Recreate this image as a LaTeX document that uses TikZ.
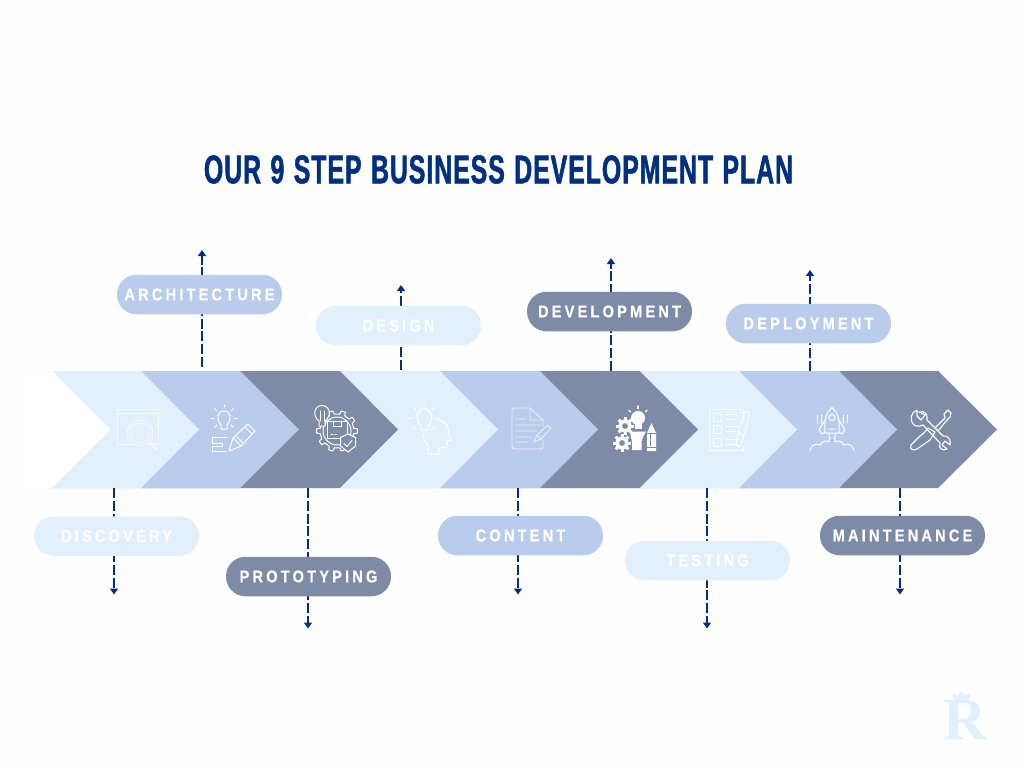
\documentclass[tikz,border=0pt]{standalone}
\usepackage{fontspec}
\usetikzlibrary{arrows.meta,calc}
\setmainfont{Liberation Sans}
\newfontfamily\titlefont[FakeStretch=0.62,FakeBold=1.3,LetterSpace=2.5,WordSpace=1.2]{Liberation Sans}
\newfontfamily\pillfont[FakeStretch=0.86,FakeBold=0.4,LetterSpace=18.6]{Liberation Sans}
\definecolor{lightb}{HTML}{E2F0FD}
\definecolor{midb}{HTML}{B9CCEB}
\definecolor{darkb}{HTML}{7D8BA7}
\definecolor{navy}{HTML}{00307F}
\definecolor{paper}{HTML}{FEFEFE}
\tikzset{
  pill/.style={rounded corners=19.5pt,minimum width=165pt,minimum height=39.5pt,inner sep=0pt,text=white,font=\pillfont\fontsize{17}{18}\bfseries},
  pilll/.style={pill,fill=lightb},
  pillm/.style={pill,fill=midb},
  pilld/.style={pill,fill=darkb},
  conn/.style={navy,line width=2pt,dash pattern=on 10pt off 2.8pt},
  connend/.style={conn,-{Triangle[width=8pt,length=6pt]}},
  icon/.style={draw=white,line width=1pt,line cap=round,line join=round,fill=none},
}
\newcommand{\chev}[4]{\fill[#1] (#2,371) -- (#3,371) -- (#4,429.5) -- (#3,488) -- (#2,488) -- cycle;}
\begin{document}
\begin{tikzpicture}[x=1pt,y=-1pt]
\path[fill=paper] (0,0) rectangle (1024,768);
\useasboundingbox (0,0) rectangle (1024,768);
% chevrons, last first so that each tip lies on the next
\chev{darkb}{739}{938}{997}
\chev{midb}{640}{839}{897}
\chev{lightb}{540}{739}{797}
\chev{darkb}{440}{639.5}{698}
\chev{midb}{340}{540}{598}
\chev{lightb}{240}{440}{498}
\chev{darkb}{141}{340}{398}
\chev{midb}{52}{240}{299}
\chev{lightb}{23}{141}{199}
\chev{white}{23}{52}{110.5}
% connector ends
\coordinate (arch-s) at (202,367);\coordinate (arch-e) at (202,250);
\coordinate (desi-s) at (401,370);\coordinate (desi-e) at (401,285);
\coordinate (deve-s) at (611,371);\coordinate (deve-e) at (611,258);
\coordinate (depl-s) at (810,371);\coordinate (depl-e) at (810,270);
\coordinate (disc-s) at (114,488);\coordinate (disc-e) at (114,594.5);
\coordinate (prot-s) at (308,488);\coordinate (prot-e) at (308,628.5);
\coordinate (cont-s) at (518,488);\coordinate (cont-e) at (518,594.5);
\coordinate (test-s) at (707,488);\coordinate (test-e) at (707,628.5);
\coordinate (main-s) at (900,488);\coordinate (main-e) at (900,594.5);
\draw[connend] (arch-s) -- (arch-e);
\draw[connend] (desi-s) -- (desi-e);
\draw[connend] (deve-s) -- (deve-e);
\draw[connend] (depl-s) -- (depl-e);
\draw[connend] (disc-s) -- (disc-e);
\draw[connend] (prot-s) -- (prot-e);
\draw[connend] (cont-s) -- (cont-e);
\draw[connend] (test-s) -- (test-e);
\draw[connend] (main-s) -- (main-e);
% pills
\node[pillm] (archp) at (199.5,294.5) {ARCHITECTURE};
\node[pilll] (desip) at (398.5,325.5) {DESIGN};
\node[pilld] (devep) at (609.5,311.5) {DEVELOPMENT};
\node[pillm] (deplp) at (808.5,323.5) {DEPLOYMENT};
\node[pilll] (discp) at (116.5,536) {DISCOVERY};
\node[pilld] (protp) at (308.5,576.5) {PROTOTYPING};
\node[pillm] (contp) at (520.5,535.5) {CONTENT};
\node[pilll] (testp) at (707.5,560.5) {TESTING};
\node[pilld] (mainp) at (902.5,535.5) {MAINTENANCE};
% title
\node[text=navy,font=\titlefont\fontsize{40}{42}\bfseries,inner sep=0pt] (title) at (498.5,169.5) {OUR 9 STEP BUSINESS DEVELOPMENT PLAN};
% icon 1: browser and lens
\draw[icon,line width=.8pt,draw=white!70!lightb] (117,409) rectangle (158,444) (117,413.5) -- (158,413.5);
\draw[icon,line width=.8pt,draw=white!70!lightb,fill=lightb] (140,433) circle (13);
\draw[icon,line width=.8pt,draw=white!70!lightb] (140,433) circle (10);
\draw[icon,line width=2.2pt,draw=white!70!lightb] (150,443) -- (156.5,449.5);
% icon 2: bulb, plan, pencil
\draw[icon] (221,425) .. controls (216,420) and (217,411) .. (224,411) .. controls (231,411) and (232,420) .. (227,425) -- (227,429) -- (221,429) -- cycle;
\foreach \a in {0,45,135,180,225,315}{\draw[icon] ($(224,418)+(\a:10)$) -- ($(224,418)+(\a:13)$);}
\draw[icon] (224,407) -- (224,405);
\draw[icon] (227,437) -- (212,437) -- (212,443) -- (222,443) -- (222,446) -- (212,446) -- (212,451) -- (226,451);
\draw[icon] (229,451) -- (233,438) -- (248,424) -- (255,431) -- (241,446) -- cycle;
\draw[icon] (233,438) -- (241,446) (236,436) -- (243,443) (245,427) -- (252,434);
% icon 3: gear, box, bulb, shield
\foreach \a in {0,36,...,324}{
  \draw[icon] ($(337,431)+(\a-9:17)$) -- ($(337,431)+(\a-6:20.5)$) -- ($(337,431)+(\a+6:20.5)$) -- ($(337,431)+(\a+9:17)$) -- ($(337,431)+(\a+27:17)$);
}
\draw[icon] (337,431) circle (14);
\draw[icon,fill=darkb] (327,421) rectangle (347,438);
\draw[icon] (333,421) -- (333,426) -- (341,426) -- (341,421) (331,434) -- (333,434) (335,434) -- (337,434);
\draw[icon,fill=darkb] (319,421) .. controls (312,416) and (314,405.5) .. (322,405.5) .. controls (330,405.5) and (332,416) .. (325,421) -- (325,426) -- (319,426) -- cycle;
\draw[icon] (320,411) -- (320,421) (324,411) -- (324,421);
\draw[icon,fill=darkb] (348,434) -- (355.5,437.5) -- (355.5,446) -- (348,452) -- (340.5,446) -- (340.5,437.5) -- cycle;
\draw[icon] (344,443.5) -- (347,446.5) -- (352,440.5);
% icon 4: bulb and head
\draw[icon] (421,426) .. controls (415,421) and (416,409) .. (424,409) .. controls (433,409) and (434,421) .. (428,426) -- (428,430) -- (421,430) -- cycle;
\foreach \a in {0,45,135,180,225,315}{\draw[icon] ($(424,418)+(\a:12)$) -- ($(424,418)+(\a:15)$);}
\draw[icon] (424,405) -- (424,406);
\draw[icon] (438,420) .. controls (446,421) and (450,428) .. (449,435) -- (451,440) -- (447,441) -- (447,447) -- (439,448) -- (439,454) -- (428,454) -- (428,445) .. controls (424,442) and (423,437) .. (423,433);
% icon 5: document and pen
\draw[icon,line width=.8pt,draw=white!70!midb] (530,408) -- (515,408) .. controls (513,408) and (512,409) .. (512,411) -- (512,446) .. controls (512,448) and (513,449) .. (515,449) -- (540,449) .. controls (542,449) and (543,448) .. (543,446) -- (543,440)
  (530,408) -- (530,420) -- (543,420) -- cycle (543,420) -- (543,427)
  (516,419) -- (526,419) (516,425) -- (540,425) (516,431) -- (538,431) (516,437) -- (532,437) (516,442) -- (528,442);
\draw[icon,line width=.8pt,draw=white!70!midb] (534,442) -- (537,435) -- (548,425) -- (551,428) -- (541,439) -- cycle (537,435) -- (541,439);
% icon 6: gears, bulb, funnel, pencil (filled)
\foreach \cx/\cy in {625/426,622/443}{
  \foreach \a in {0,45,...,315}{\draw[white,line width=3pt] ($(\cx,\cy)+(\a:6)$) -- ($(\cx,\cy)+(\a:9)$);}
  \draw[white,line width=3.6pt] (\cx,\cy) circle (5);
}
\fill[white] (638,418) circle (7);
\fill[white] (634.5,422) rectangle (641.5,429);
\foreach \a in {-140,-90,-40}{\draw[icon,line width=1.3pt] ($(638,418)+(\a:9.5)$) -- ($(638,418)+(\a:12)$);}
\fill[white] (630,431.5) -- (646,431.5) -- (643,437) -- (641.5,441) -- (641.5,450) -- (632,450) -- (632,442) -- (631,437) -- cycle;
\fill[white] (647,433) -- (651.5,423) -- (656,433) -- (656,451) -- (647,451) -- cycle;
\draw[darkb,line width=.8pt] (647,433) -- (656,433) (647,447) -- (656,447) (650,434) -- (650,446);
% icon 7: checklist and pen
\draw[icon,draw=white!85!lightb] (743,423) -- (743,409.5) -- (709.5,409.5) -- (709.5,450) -- (743,450) -- (743,446);
\foreach \y in {413,425,438}{
  \draw[icon,draw=white!85!lightb] (713,\y) rectangle (721,\y+8);
  \draw[icon,draw=white!85!lightb] (726,\y+1) -- (738,\y+1) (726,\y+6) -- (736,\y+6);
}
\draw[icon,draw=white!85!lightb] (736,445) -- (738,432) -- (745,411) -- (749,412) -- (747,426) -- (740,447) -- cycle (738,433) -- (743,435);
% icon 8: rocket
\draw[icon] (832,407.5) .. controls (826,412) and (824,420) .. (825,433) -- (839,433) .. controls (840,420) and (838,412) .. (832,407.5) -- cycle;
\draw[icon] (832,417.5) circle (3.2) (825,420) -- (819,430) -- (822,434) -- (825,432) (839,420) -- (845,430) -- (842,434) -- (839,432)
  (829,433) -- (829,438) (835,433) -- (835,438) (829,429) -- (835,429);
\draw[icon] (817,415) -- (817,423) (821,415) -- (821,423) (843,415) -- (843,423) (847,415) -- (847,423);
\draw[icon] (810,451) .. controls (811,445) and (816,443) .. (820,445) .. controls (822,441) and (826,440) .. (829,442) -- (830,437)
  (854,451) .. controls (853,445) and (848,443) .. (844,445) .. controls (842,441) and (838,440) .. (835,442) -- (834,437);
% icon 9: wrench and screwdriver
\draw[icon,line width=1.1pt] (917,410) .. controls (911,412) and (909,420) .. (914,425) .. controls (918,427) and (921,426) .. (923,425)
  -- (940,443) .. controls (938,449) and (943,451) .. (947,449) -- (942,445) -- (945,441) -- (950,445) .. controls (951,439) and (948,435) .. (943,436) -- (927,420)
  .. controls (928,415) and (925,410) .. (919,412) -- (925,415) -- (921,420) -- (917,416) -- cycle;
\draw[icon,line width=1.1pt] (920,436) -- (911,445) .. controls (909,450) and (914,451) .. (917,449) -- (930,440) -- (935,432) -- (928,428) -- (924,433) -- cycle;
\draw[icon,line width=1.1pt] (935,428) -- (945,418) -- (944,414) -- (948,410) -- (951,413) -- (950,417) -- (947,420) -- (938,431);
% watermark
\node[text=lightb,font=\fontspec{Liberation Serif}\fontsize{60}{60}\bfseries,inner sep=0pt] (mark) at (965,720) {R};
\fill[lightb] (954,699.5) -- (952,693) -- (958,696) -- (961.5,691) -- (965,696) -- (971,693) -- (969,699.5) -- cycle;
\end{tikzpicture}
\end{document}
